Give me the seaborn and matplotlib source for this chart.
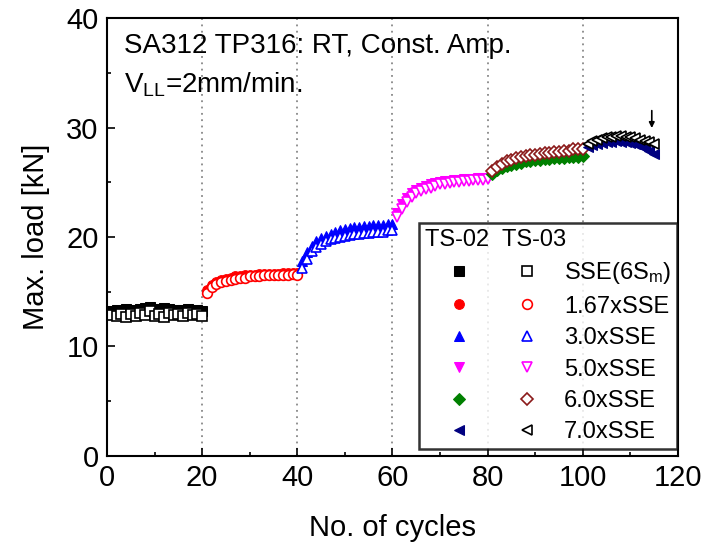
import numpy as np
import pandas as pd
import matplotlib
matplotlib.use("Agg")
import matplotlib.pyplot as plt
import seaborn as sns
from matplotlib.legend_handler import HandlerTuple

# ---------------- data ----------------
cyc_sse = list(range(1, 21))
cyc_167 = list(range(21, 41))
cyc_30 = list(range(41, 61))
cyc_50 = list(range(61, 81))
cyc_60 = list(range(81, 101))
cyc_70 = list(range(101, 116))

ts02_sse = [13.2, 13.3, 13.2, 13.4, 13.3, 13.2, 13.4, 13.5, 13.6, 13.4,
            13.3, 13.5, 13.4, 13.3, 13.2, 13.3, 13.4, 13.2, 13.3, 13.2]
ts03_sse = [12.9, 12.8, 13.0, 12.7, 13.0, 12.8, 13.1, 12.9, 13.2, 12.8,
            13.0, 12.7, 13.1, 12.9, 13.0, 12.8, 13.1, 12.9, 13.0, 12.8]
ts02_167 = [15.2, 15.6, 15.9, 16.1, 16.2, 16.3, 16.4, 16.4, 16.5, 16.5,
            16.5, 16.6, 16.6, 16.6, 16.6, 16.6, 16.7, 16.7, 16.7, 16.7]
ts03_167 = [14.9, 15.4, 15.7, 15.9, 16.0, 16.1, 16.2, 16.3, 16.3, 16.4,
            16.4, 16.4, 16.5, 16.5, 16.5, 16.5, 16.5, 16.5, 16.6, 16.5]
ts02_30 = [17.8, 18.6, 19.2, 19.6, 19.9, 20.1, 20.3, 20.5, 20.6, 20.7,
           20.8, 20.9, 20.9, 21.0, 21.0, 21.1, 21.1, 21.1, 21.2, 21.2]
ts03_30 = [17.2, 18.0, 18.7, 19.1, 19.4, 19.6, 19.8, 19.9, 20.0, 20.1,
           20.2, 20.3, 20.3, 20.4, 20.4, 20.5, 20.5, 20.5, 20.6, 20.6]
ts02_50 = [22.2, 23.0, 23.6, 24.0, 24.3, 24.5, 24.7, 24.8, 24.9, 25.0,
           25.1, 25.1, 25.2, 25.2, 25.3, 25.3, 25.3, 25.4, 25.4, 25.4]
ts03_50 = [21.8, 22.6, 23.2, 23.7, 24.0, 24.2, 24.4, 24.5, 24.7, 24.8,
           24.8, 24.9, 25.0, 25.0, 25.1, 25.1, 25.2, 25.2, 25.2, 25.3]
ts02_60 = [25.8, 26.1, 26.3, 26.5, 26.6, 26.7, 26.8, 26.9, 26.9, 27.0,
           27.0, 27.1, 27.1, 27.2, 27.2, 27.2, 27.3, 27.3, 27.3, 27.4]
ts03_60 = [26.0, 26.4, 26.7, 26.9, 27.0, 27.2, 27.3, 27.4, 27.5, 27.5,
           27.6, 27.7, 27.7, 27.8, 27.8, 27.9, 27.9, 28.0, 28.0, 28.0]
ts02_70 = [28.2, 28.4, 28.5, 28.6, 28.7, 28.7, 28.8, 28.7, 28.7, 28.6,
           28.5, 28.3, 28.1, 27.9, 27.6]
ts03_70 = [28.5, 28.8, 28.9, 29.0, 29.1, 29.1, 29.2, 29.2, 29.1, 29.1,
           29.0, 28.9, 28.8, 28.7, 28.5]

labels = ["SSE(6S$_m$)", "1.67xSSE", "3.0xSSE", "5.0xSSE", "6.0xSSE", "7.0xSSE"]
block_bounds = [20, 40, 60, 80, 100]
arrow_cycle = 114.5
arrow_tip, arrow_tail = 29.7, 31.8

# ---------------- style ----------------
sns.set_theme(style="ticks", rc={"text.color": "black", "axes.labelcolor": "black",
                                 "xtick.color": "black", "ytick.color": "black",
                                 "axes.edgecolor": "black"})
plt.rcParams["font.family"] = ["Liberation Sans", "DejaVu Sans"]
plt.rcParams["mathtext.fontset"] = "custom"
plt.rcParams["mathtext.rm"] = "Liberation Sans"
plt.rcParams["mathtext.it"] = "Liberation Sans"

fig = plt.figure(figsize=(7.04, 5.48), dpi=100)
ax = fig.add_axes([0.152, 0.168, 0.811, 0.799])

series = [
    (cyc_sse, ts02_sse, ts03_sse, "s", "s", "black", "black"),
    (cyc_167, ts02_167, ts03_167, "o", "o", "red", "red"),
    (cyc_30, ts02_30, ts03_30, "^", "^", "blue", "blue"),
    (cyc_50, ts02_50, ts03_50, "v", "v", "magenta", "magenta"),
    (cyc_60, ts02_60, ts03_60, "D", "D", "green", "#8b1a1a"),
    (cyc_70, ts02_70, ts03_70, "<", "<", "#000080", "black"),
]

for xb in block_bounds:
    ax.axvline(xb, color="#888888", ls=(0, (1, 2.5)), lw=1.3, zorder=0)

handles = []
for cyc, y2, y3, m2, m3, c2, c3 in series:
    ms = 7 if m2 != "D" else 6
    sns.lineplot(x=cyc, y=y2, ax=ax, marker=m2, linestyle="", color=c2,
                 markersize=ms, markerfacecolor=c2, markeredgecolor=c2)
    h2 = ax.lines[-1]
    sns.lineplot(x=cyc, y=y3, ax=ax, marker=m3, linestyle="", color=c3,
                 markersize=ms, markerfacecolor="white", markeredgecolor=c3,
                 markeredgewidth=1.2)
    h3 = ax.lines[-1]
    handles.append((h2, h3))

ax.annotate("", xy=(arrow_cycle, arrow_tip), xytext=(arrow_cycle, arrow_tail),
            arrowprops=dict(arrowstyle="-|>", color="black", lw=1.2,
                            mutation_scale=8))

ax.set_xlim(0, 120)
ax.set_ylim(0, 40)
ax.set_xticks(range(0, 121, 20))
ax.set_yticks(range(0, 41, 10))
ax.set_xticks(range(10, 120, 20), minor=True)
ax.set_yticks(range(5, 40, 10), minor=True)
ax.tick_params(which="both", direction="in", labelsize=21, width=1.2)
ax.tick_params(which="major", length=6, pad=6)
ax.tick_params(which="minor", length=3)
for sp in ax.spines.values():
    sp.set_linewidth(1.5)
    sp.set_color("black")

ax.set_xlabel("No. of cycles", fontsize=21, labelpad=16)
ax.set_ylabel("Max. load [kN]", fontsize=21, labelpad=12)

ax.text(0.03, 0.967, "SA312 TP316: RT, Const. Amp.", transform=ax.transAxes,
        fontsize=20, va="top", ha="left")
ax.text(0.03, 0.88, "V$_{\\rm LL}$=2mm/min.", transform=ax.transAxes,
        fontsize=20, va="top", ha="left")

leg = ax.legend(handles, labels, handler_map={tuple: HandlerTuple(ndivide=None, pad=0.0)},
                loc="lower right", bbox_to_anchor=(0.9985, 0.015), fontsize=17,
                title="TS-02  TS-03", title_fontsize=17, handlelength=5.8,
                handletextpad=0.1, labelspacing=0.4, borderpad=0.25,
                borderaxespad=0.0,
                frameon=True, fancybox=False, edgecolor="black",
                alignment="left")
leg.get_frame().set_linewidth(1.8)

fig.savefig("out.png", dpi=100)
